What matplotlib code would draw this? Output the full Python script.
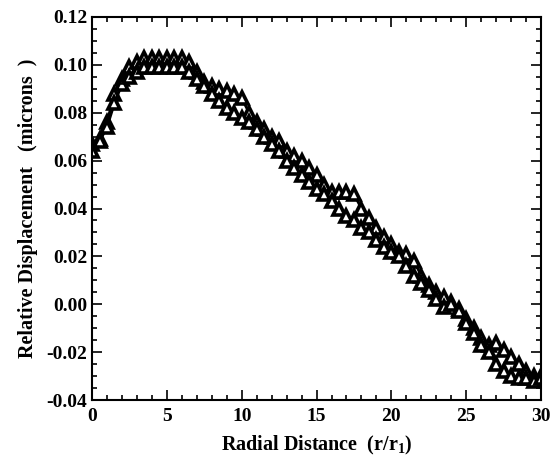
import numpy as np
import matplotlib
matplotlib.use('Agg')
import matplotlib.pyplot as plt
from matplotlib.ticker import MultipleLocator

# ── data ───────────────────────────────────────────────────────────────────
radial = np.arange(0, 30.01, 0.5)

disp_upper = [0.067, 0.069, 0.076, 0.088, 0.094, 0.099, 0.101, 0.103, 0.103, 0.103,
              0.103, 0.103, 0.103, 0.101, 0.097, 0.093, 0.091, 0.090, 0.089, 0.088,
              0.086, 0.080, 0.076, 0.073, 0.070, 0.068, 0.064, 0.062, 0.060, 0.057,
              0.054, 0.050, 0.047, 0.047, 0.047, 0.046, 0.040, 0.036, 0.032, 0.028,
              0.025, 0.022, 0.021, 0.018, 0.012, 0.008, 0.005, 0.003, 0.001, -0.002,
              -0.006, -0.010, -0.014, -0.017, -0.016, -0.019, -0.022, -0.025, -0.028,
              -0.030, -0.030]

disp_lower = [0.064, 0.068, 0.074, 0.084, 0.092, 0.095, 0.097, 0.099, 0.099, 0.099,
              0.099, 0.099, 0.099, 0.097, 0.094, 0.091, 0.088, 0.085, 0.082, 0.080,
              0.078, 0.076, 0.073, 0.070, 0.067, 0.064, 0.060, 0.057, 0.054, 0.051,
              0.048, 0.046, 0.043, 0.040, 0.037, 0.035, 0.032, 0.030, 0.027, 0.024,
              0.022, 0.020, 0.016, 0.012, 0.009, 0.006, 0.002, -0.001, 0.000, -0.003,
              -0.008, -0.012, -0.017, -0.020, -0.025, -0.028, -0.030, -0.031, -0.031,
              -0.032, -0.031]

x_ticks = [0, 5, 10, 15, 20, 25, 30]
y_ticks = [-0.04, -0.02, 0.00, 0.02, 0.04, 0.06, 0.08, 0.10, 0.12]

# ── figure ────────────────────────────────────────────────────────────────
plt.rcParams['font.family'] = ['Liberation Serif', 'DejaVu Serif']
plt.rcParams['font.weight'] = 'bold'
plt.rcParams['mathtext.fontset'] = 'custom'
plt.rcParams['mathtext.rm'] = 'Liberation Serif:bold'
plt.rcParams['mathtext.it'] = 'Liberation Serif:bold'

fig = plt.figure(figsize=(5.51, 4.59), dpi=100)
ax = fig.add_axes([0.167, 0.1285, 0.815, 0.8345])

for ys in (disp_upper, disp_lower):
    ax.plot(radial, ys, color='black', lw=2, marker='^', ms=8,
            mfc='white', mec='black', mew=2.6)

ax.set_xlim(0, 30)
ax.set_ylim(-0.04, 0.12)
ax.set_xticks(x_ticks)
ax.set_yticks(y_ticks)
ax.set_yticklabels([f'{v:.2f}' for v in y_ticks])
ax.xaxis.set_minor_locator(MultipleLocator(1))
ax.yaxis.set_minor_locator(MultipleLocator(0.005))
ax.tick_params(which='both', direction='in', top=True, right=True,
               labelsize=14, width=1.2)
ax.tick_params(axis='x', pad=6)
ax.tick_params(which='major', length=7)
ax.tick_params(which='minor', length=3.5)
for s in ax.spines.values():
    s.set_linewidth(1.5)

ax.set_xlabel('Radial Distance  (r/r$_1$)', fontsize=14.5, fontweight='bold', labelpad=6)
ax.set_ylabel('Relative Displacement   (microns  )', fontsize=14.5,
              fontweight='bold', labelpad=6)

fig.savefig('out.png', dpi=100)
